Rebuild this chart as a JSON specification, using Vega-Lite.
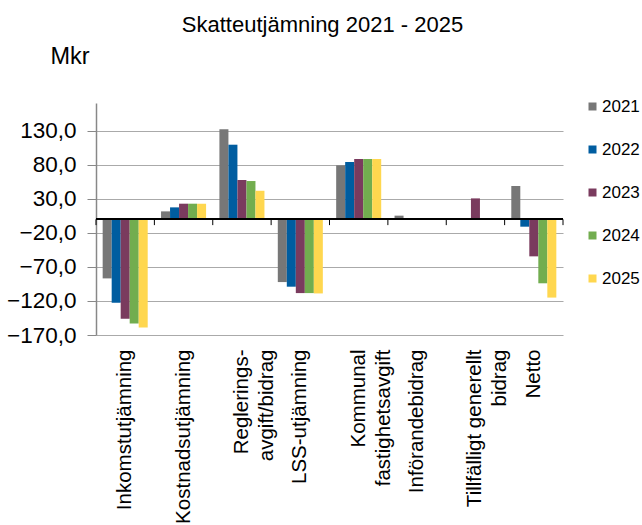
{
  "$schema": "https://vega.github.io/schema/vega-lite/v6.json",
  "autosize": "none",
  "width": 467,
  "height": 232,
  "padding": {"left": 96, "top": 103, "right": 79, "bottom": 190},
  "background": "white",
  "config": {
    "font": "Liberation Sans",
    "view": {"stroke": null},
    "axis": {"labelColor": "black", "titleColor": "black", "labelFont": "Liberation Sans", "titleFont": "Liberation Sans"}
  },
  "title": {
    "text": "Skatteutjämning 2021 - 2025",
    "fontSize": 22,
    "fontWeight": "normal",
    "font": "Liberation Sans",
    "color": "black",
    "anchor": "middle",
    "frame": "group",
    "dx": -7,
    "offset": 7
  },
  "data": {
    "values": [
      {"category": "Inkomstutjämning", "year": "2021", "value": -86.8},
      {"category": "Inkomstutjämning", "year": "2022", "value": -122.6},
      {"category": "Inkomstutjämning", "year": "2023", "value": -146.0},
      {"category": "Inkomstutjämning", "year": "2024", "value": -153.0},
      {"category": "Inkomstutjämning", "year": "2025", "value": -159.0},
      {"category": "Kostnadsutjämning", "year": "2021", "value": 11.7},
      {"category": "Kostnadsutjämning", "year": "2022", "value": 17.6},
      {"category": "Kostnadsutjämning", "year": "2023", "value": 23.0},
      {"category": "Kostnadsutjämning", "year": "2024", "value": 23.0},
      {"category": "Kostnadsutjämning", "year": "2025", "value": 23.0},
      {"category": "Reglerings-avgift/bidrag", "year": "2021", "value": 132.3},
      {"category": "Reglerings-avgift/bidrag", "year": "2022", "value": 109.7},
      {"category": "Reglerings-avgift/bidrag", "year": "2023", "value": 57.8},
      {"category": "Reglerings-avgift/bidrag", "year": "2024", "value": 56.3},
      {"category": "Reglerings-avgift/bidrag", "year": "2025", "value": 42.0},
      {"category": "LSS-utjämning", "year": "2021", "value": -92.2},
      {"category": "LSS-utjämning", "year": "2022", "value": -99.0},
      {"category": "LSS-utjämning", "year": "2023", "value": -108.4},
      {"category": "LSS-utjämning", "year": "2024", "value": -108.4},
      {"category": "LSS-utjämning", "year": "2025", "value": -108.9},
      {"category": "Kommunal fastighetsavgift", "year": "2021", "value": 79.4},
      {"category": "Kommunal fastighetsavgift", "year": "2022", "value": 84.3},
      {"category": "Kommunal fastighetsavgift", "year": "2023", "value": 88.7},
      {"category": "Kommunal fastighetsavgift", "year": "2024", "value": 88.7},
      {"category": "Kommunal fastighetsavgift", "year": "2025", "value": 88.7},
      {"category": "Införandebidrag", "year": "2021", "value": 5.4},
      {"category": "Införandebidrag", "year": "2022", "value": 0},
      {"category": "Införandebidrag", "year": "2023", "value": 0},
      {"category": "Införandebidrag", "year": "2024", "value": 0},
      {"category": "Införandebidrag", "year": "2025", "value": 0},
      {"category": "Tillfälligt generellt bidrag", "year": "2021", "value": 0},
      {"category": "Tillfälligt generellt bidrag", "year": "2022", "value": 0},
      {"category": "Tillfälligt generellt bidrag", "year": "2023", "value": 30.8},
      {"category": "Tillfälligt generellt bidrag", "year": "2024", "value": 0},
      {"category": "Tillfälligt generellt bidrag", "year": "2025", "value": 0},
      {"category": "Netto", "year": "2021", "value": 49.0},
      {"category": "Netto", "year": "2022", "value": -10.8},
      {"category": "Netto", "year": "2023", "value": -54.4},
      {"category": "Netto", "year": "2024", "value": -94.0},
      {"category": "Netto", "year": "2025", "value": -115.0}
    ]
  },
  "layer": [
    {
      "mark": {"type": "bar"},
      "encoding": {
        "x": {
          "field": "category",
          "type": "nominal",
          "sort": null,
          "scale": {"paddingInner": 0, "paddingOuter": 0},
          "axis": {
            "orient": "bottom",
            "title": null,
            "domain": false,
            "ticks": false,
            "labelAngle": -90,
            "labelAlign": "right",
            "labelBaseline": "middle",
            "labelPadding": 14,
            "labelFontSize": 20.5,
            "labelLineHeight": 25,
            "labelLimit": 0,
            "labelOverlap": false,
            "labelExpr": "datum.value == 'Reglerings-avgift/bidrag' ? ['Reglerings-', 'avgift/bidrag'] : datum.value == 'Kommunal fastighetsavgift' ? ['Kommunal', 'fastighetsavgift'] : datum.value == 'Tillfälligt generellt bidrag' ? ['Tillfälligt generellt', 'bidrag'] : datum.value"
          }
        },
        "xOffset": {
          "field": "year",
          "type": "nominal",
          "scale": {"domain": ["2021", "2022", "2023", "2024", "2025"], "paddingInner": 0, "paddingOuter": 0.74}
        },
        "y": {
          "field": "value",
          "type": "quantitative",
          "scale": {"domain": [-170, 171], "nice": false, "zero": false},
          "axis": {
            "values": [-170, -120, -70, -20, 30, 80, 130],
            "tickCount": 20,
            "labelExpr": "replace(format(datum.value, '.1f'), '.', ',')",
            "labelFontSize": 22.5,
            "labelPadding": 11,
            "labelOverlap": false,
            "labelFlush": false,
            "tickSize": 9,
            "tickColor": "#888888",
            "domainColor": "#888888",
            "domainWidth": 1.5,
            "grid": true,
            "gridColor": "#aaaaaa",
            "gridWidth": 1.2,
            "title": "Mkr",
            "titleAngle": 0,
            "titleAlign": "left",
            "titleBaseline": "alphabetic",
            "titleX": -46,
            "titleY": -40,
            "titleFontSize": 23.5,
            "titleFontWeight": "normal"
          }
        },
        "color": {
          "field": "year",
          "type": "nominal",
          "scale": {
            "domain": ["2021", "2022", "2023", "2024", "2025"],
            "range": ["#777777", "#005DA0", "#7A3B5E", "#72AD4F", "#FFD74F"]
          },
          "legend": {
            "title": null,
            "orient": "none",
            "legendX": 488,
            "legendY": -5,
            "padding": 0,
            "symbolType": "square",
            "symbolSize": 64,
            "symbolStrokeWidth": 0,
            "labelFontSize": 17,
            "labelColor": "black",
            "labelFont": "Liberation Sans",
            "labelOffset": 1,
            "rowPadding": 25
          }
        }
      }
    },
    {
      "transform": [{"filter": "datum.year == '2021'"}],
      "mark": {"type": "rule", "color": "black", "strokeWidth": 1},
      "encoding": {
        "x": {"field": "category", "type": "nominal", "sort": null, "bandPosition": 0},
        "y": {"datum": 0},
        "y2": {"datum": -8.5}
      }
    },
    {
      "transform": [{"filter": "datum.year == '2021' && datum.category == 'Netto'"}],
      "mark": {"type": "rule", "color": "black", "strokeWidth": 1},
      "encoding": {
        "x": {"field": "category", "type": "nominal", "sort": null, "bandPosition": 1},
        "y": {"datum": 0},
        "y2": {"datum": -8.5}
      }
    },
    {
      "mark": {"type": "rule", "color": "black", "strokeWidth": 1.5},
      "encoding": {"y": {"datum": 0}}
    }
  ]
}
